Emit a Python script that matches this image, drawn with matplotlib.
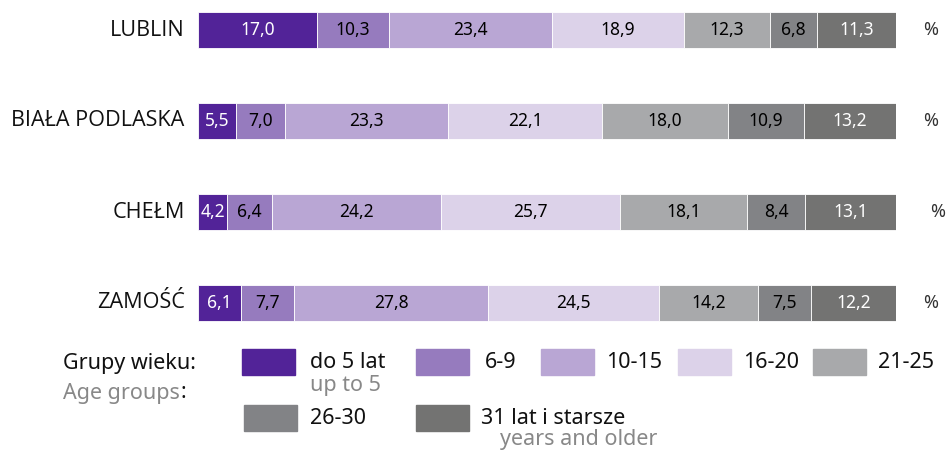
import matplotlib.pyplot as plt
from matplotlib.patches import Rectangle

cities = ['LUBLIN', 'BIAŁA PODLASKA', 'CHEŁM', 'ZAMOŚĆ']
groups = ['do 5 lat', '6-9', '10-15', '16-20', '21-25', '26-30', '31 lat i starsze']
shares = [
    [17.0, 10.3, 23.4, 18.9, 12.3, 6.8, 11.3],
    [5.5, 7.0, 23.3, 22.1, 18.0, 10.9, 13.2],
    [4.2, 6.4, 24.2, 25.7, 18.1, 8.4, 13.1],
    [6.1, 7.7, 27.8, 24.5, 14.2, 7.5, 12.2],
]

colors = ['#522398', '#967bbe', '#b9a6d4', '#dcd2e9', '#a8a9ab', '#828386', '#737372']
text_colors = ['white', 'black', 'black', 'black', 'black', 'black', 'white']
fam = ['Noto Sans', 'DejaVu Sans']

W, H = 947, 454
fig = plt.figure(figsize=(W / 100, H / 100), dpi=100)

# bars axes: x 198..896 px, y 0..340 px from top
ax = fig.add_axes([198 / W, 1 - 340 / H, (896 - 198) / W, 340 / H])
ax.set_xlim(0, 100)
ax.set_ylim((340 - 30) / 91, -30 / 91)
ax.axis('off')

for i, row in enumerate(shares):
    left = 0
    for j, v in enumerate(row):
        ax.barh(i, v, left=left, height=0.4, color=colors[j], edgecolor='white', linewidth=0.6)
        ax.text(left + v / 2, i, f'{v:.1f}'.replace('.', ','), ha='center', va='center',
                fontsize=12.5, color=text_colors[j], family=fam)
        left += v
    ax.text(-1.9, i, cities[i], ha='right', va='center', fontsize=15.6,
            family=['Open Sans', 'DejaVu Sans'], color='#111111')
    ax.text(106 if i == 2 else 105, i, '%', ha='center', va='center', fontsize=13,
            family=fam, color='#333333')

# legend (figure pixel coordinates, from top)
def px(x, y):
    return x / W, 1 - y / H

def patch(x, y, c):
    fig.patches.append(Rectangle(px(x, y + 26), 53 / W, 26 / H, transform=fig.transFigure,
                                 color=c, figure=fig))

def txt(x, y, s, c='#111111', size=15.5, ha='left'):
    return fig.text(*px(x, y), s, ha=ha, va='center', fontsize=size, color=c, family=fam)

txt(63, 364, 'Grupy wieku:')
t = txt(63, 393, 'Age groups', c='#888888')
r = fig.canvas.get_renderer()
bb = t.get_window_extent(renderer=r)
txt(bb.x1 + 1, 393, ':')

leg = [(242, 349, 310), (416, 349, 485), (541, 349, 606), (678, 349, 743),
       (813, 349, 878), (244, 405, 310), (416, 405, 481)]
for k, (x, y, tx) in enumerate(leg):
    patch(x, y, colors[k])
    txt(tx, y + 13, groups[k])

txt(310, 385, 'up to 5', c='#888888')
txt(500, 440, 'years and older', c='#888888')

fig.savefig('out.png', dpi=100)
